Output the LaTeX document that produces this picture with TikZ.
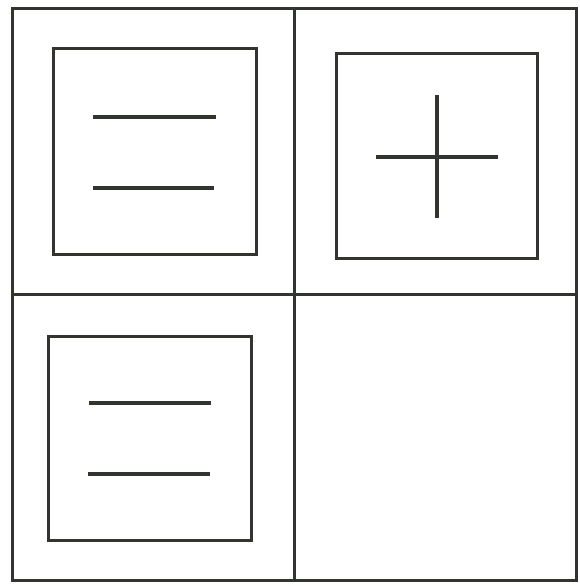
\documentclass[tikz,border=0pt]{standalone}
\begin{document}
\begin{tikzpicture}[x=1pt,y=-1pt,
  ink/.style={draw={rgb,255:red,50;green,53;blue,47},line width=3pt},
  stroke/.style={draw={rgb,255:red,50;green,53;blue,47},line width=3.2pt}]
\useasboundingbox[fill=white] (0,0) rectangle (579,586);
% outer grid
\draw[ink] (12,9) rectangle (576,580);
\draw[ink] (294,9) -- (294,580);
\draw[ink] (12,294) -- (576,294);
% top-left
\draw[ink] (53,49) rectangle (256,254);
\draw[stroke] (93,117) -- (216,117);
\draw[stroke] (93,188) -- (214,188);
% top-right
\draw[ink] (336,54) rectangle (537,258);
\draw[stroke] (376,157) -- (498,157);
\draw[stroke] (437,95) -- (437,218);
% bottom-left
\draw[ink] (48,336) rectangle (251,540);
\draw[stroke] (89,403) -- (211,403);
\draw[stroke] (88,474) -- (210,474);
\end{tikzpicture}
\end{document}
